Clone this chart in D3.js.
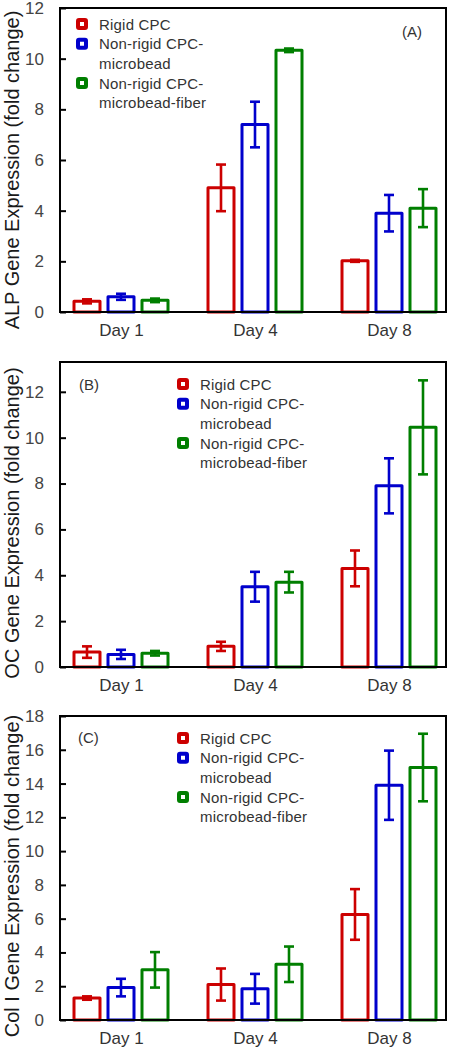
<!DOCTYPE html>
<html>
<head>
<meta charset="utf-8">
<script src="https://cdn.jsdelivr.net/npm/d3@7"></script>
<style>
  html, body { margin: 0; padding: 0; background: #fff; }
  svg { display: block; }
  text { font-family: Arial, "Liberation Sans", sans-serif; }
</style>
</head>
<body>
<svg id="chart" width="455" height="1050"></svg>
<script>
// ---------- data ----------
const days = ["Day 1", "Day 4", "Day 8"];
const seriesNames = ["Rigid CPC", "Non-rigid CPC-microbead", "Non-rigid CPC-microbead-fiber"];
const legendLines = [["Rigid CPC"], ["Non-rigid CPC-", "microbead"], ["Non-rigid CPC-", "microbead-fiber"]];

// values[dayIndex][seriesIndex]
const alpMeans  = [[0.42, 0.6, 0.46], [4.9, 7.4, 10.33], [2.02, 3.9, 4.1]];
const alpErrors = [[0.08, 0.12, 0.07], [0.92, 0.9, 0.07], [0.04, 0.72, 0.75]];
const alpTicks  = [0, 2, 4, 6, 8, 10, 12];

const ocMeans   = [[0.65, 0.55, 0.6], [0.9, 3.5, 3.7], [4.3, 7.9, 10.45]];
const ocErrors  = [[0.25, 0.2, 0.1], [0.2, 0.65, 0.45], [0.78, 1.2, 2.05]];
const ocTicks   = [0, 2, 4, 6, 8, 10, 12];

const colMeans  = [[1.3, 1.92, 2.97], [2.1, 1.85, 3.3], [6.25, 13.9, 14.95]];
const colErrors = [[0.1, 0.52, 1.05], [0.95, 0.88, 1.05], [1.5, 2.05, 2.0]];
const colTicks  = [0, 2, 4, 6, 8, 10, 12, 14, 16, 18];

const yTitles = ["ALP Gene Expression (fold change)", "OC Gene Expression (fold change)", "Col I Gene Expression (fold change)"];
const panelLabels = ["(A)", "(B)", "(C)"];

// ---------- layout / style ----------
const colors = ["#cc0000", "#0000cc", "#007f00"];
const panels = [
  { means: alpMeans, errors: alpErrors, ticks: alpTicks, ymax: 12,   top: 8,   bottom: 312,
    legendX: 82, legendY: 16, labelX: 402, labelY: 37, titleY: 170 },
  { means: ocMeans,  errors: ocErrors,  ticks: ocTicks,  ymax: 13.3, top: 362, bottom: 667,
    legendX: 183, legendY: 22, labelX: 79, labelY: 390, titleY: 523 },
  { means: colMeans, errors: colErrors, ticks: colTicks, ymax: 18,   top: 716, bottom: 1020,
    legendX: 183, legendY: 22, labelX: 78, labelY: 743, titleY: 876 }
];
const left = 60, right = 446;

const svg = d3.select("#chart");

const x = d3.scalePoint().domain(days).range([121, 389]);
const xs = d3.scaleBand().domain(seriesNames).range([-48.5, 48.5]).paddingInner(0.147);

panels.forEach((p, pi) => {
  const g = svg.append("g");
  const y = d3.scaleLinear().domain([0, p.ymax]).range([p.bottom, p.top]);

  // bars
  const bw = xs.bandwidth();
  days.forEach((day, di) => {
    seriesNames.forEach((s, si) => {
      const v = p.means[di][si], e = p.errors[di][si];
      const cx = x(day) + xs(s) + bw / 2;
      g.append("rect")
        .attr("x", x(day) + xs(s) + 1.5)
        .attr("y", y(v))
        .attr("width", bw - 3)
        .attr("height", y(0) - y(v))
        .attr("fill", "#fff")
        .attr("stroke", colors[si])
        .attr("stroke-width", 3)
        .attr("stroke-linejoin", "round");
      // error bar
      g.append("line")
        .attr("x1", cx).attr("x2", cx)
        .attr("y1", y(v - e)).attr("y2", y(v + e))
        .attr("stroke", colors[si]).attr("stroke-width", 2.6);
      [v - e, v + e].forEach(t => {
        g.append("line")
          .attr("x1", cx - 5).attr("x2", cx + 5)
          .attr("y1", y(t)).attr("y2", y(t))
          .attr("stroke", colors[si]).attr("stroke-width", 2.6);
      });
    });
  });

  // frame
  g.append("rect")
    .attr("x", left).attr("y", p.top)
    .attr("width", right - left).attr("height", p.bottom - p.top)
    .attr("fill", "none").attr("stroke", "#000").attr("stroke-width", 2);

  // y axis (ticks inside)
  const yAxis = d3.axisLeft(y).tickValues(p.ticks).tickSizeInner(-6).tickSizeOuter(0).tickPadding(16)
    .tickFormat(d3.format("d"));
  const ya = g.append("g").attr("transform", `translate(${left},0)`).call(yAxis);
  ya.select(".domain").remove();
  ya.selectAll(".tick line").attr("stroke", "#000").attr("stroke-width", 2);
  ya.selectAll(".tick text").attr("font-size", 17).attr("fill", "#444")
    .attr("font-family", "Arial, 'Liberation Sans', sans-serif");

  // x axis labels
  const xAxis = d3.axisBottom(x).tickSize(0).tickPadding(12);
  const xa = g.append("g").attr("transform", `translate(0,${p.bottom})`).call(xAxis);
  xa.select(".domain").remove();
  xa.selectAll(".tick text").attr("font-size", 17).attr("fill", "#333")
    .attr("font-family", "Arial, 'Liberation Sans', sans-serif");

  // y title
  g.append("text")
    .attr("transform", `translate(19,${p.titleY}) rotate(-90)`)
    .attr("text-anchor", "middle")
    .attr("font-size", 20)
    .attr("fill", "#1a1a1a")
    .text(yTitles[pi]);

  // panel label
  g.append("text")
    .attr("x", p.labelX).attr("y", p.labelY)
    .attr("font-size", 15).attr("fill", "#333")
    .text(panelLabels[pi]);

  // legend
  let row = 0;
  legendLines.forEach((lines, si) => {
    const cy = p.top + p.legendY + row * 19.7;
    g.append("rect")
      .attr("x", p.legendX - 4).attr("y", cy - 4)
      .attr("width", 8).attr("height", 8)
      .attr("rx", 1)
      .attr("fill", "#fff")
      .attr("stroke", colors[si]).attr("stroke-width", 4);
    lines.forEach((ln, li) => {
      g.append("text")
        .attr("x", p.legendX + 17)
        .attr("y", p.top + p.legendY + (row + li) * 19.7 + 5.5)
        .attr("font-size", 15).attr("fill", "#333")
        .attr("letter-spacing", 0.2)
        .text(ln);
    });
    row += lines.length;
  });
});
</script>
</body>
</html>
